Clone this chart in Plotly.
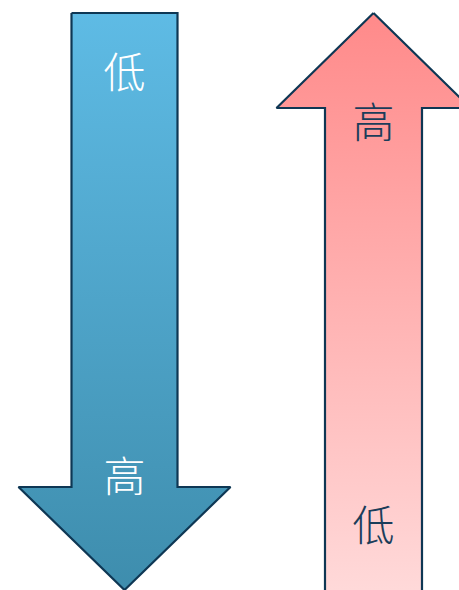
import plotly.graph_objects as go

# Labels for each arrow (top label, bottom label)
down_labels = ["低", "高"]
up_labels = ["高", "低"]

# Arrow geometry parameters (pixels in a 459x590 canvas, y downward)
W, H = 459, 590
down_cx, down_shaft_w, down_head_w, down_top, down_head_y, down_tip = 124.5, 106, 212, 13, 487, 590
up_cx, up_shaft_w, up_head_w, up_tip, up_head_y, up_bottom = 373.5, 97, 194, 13, 108, 600

def down_arrow():
    hs, hh = down_shaft_w / 2, down_head_w / 2
    xs = [down_cx - hs, down_cx + hs, down_cx + hs, down_cx + hh, down_cx, down_cx - hh, down_cx - hs, down_cx - hs]
    ys = [down_top, down_top, down_head_y, down_head_y, down_tip, down_head_y, down_head_y, down_top]
    return xs, ys

def up_arrow():
    hs, hh = up_shaft_w / 2, up_head_w / 2
    xs = [up_cx, up_cx + hh, up_cx + hs, up_cx + hs, up_cx - hs, up_cx - hs, up_cx - hh, up_cx]
    ys = [up_tip, up_head_y, up_head_y, up_bottom, up_bottom, up_head_y, up_head_y, up_tip]
    return xs, ys

edge = "#0E3754"
fig = go.Figure()
x, y = down_arrow()
fig.add_trace(go.Scatter(x=x, y=y, mode="lines", fill="toself",
                         line=dict(color=edge, width=2.2),
                         fillgradient=dict(type="vertical", start=0, stop=590,
                                           colorscale=[[0, "#5FBCE6"], [1, "#3E8DAD"]]),
                         hoverinfo="skip", showlegend=False))
x, y = up_arrow()
fig.add_trace(go.Scatter(x=x, y=y, mode="lines", fill="toself",
                         line=dict(color=edge, width=2.2),
                         fillgradient=dict(type="vertical", start=0, stop=590,
                                           colorscale=[[0, "#FF8888"], [1, "#FFD9D9"]]),
                         hoverinfo="skip", showlegend=False))

font_family = "Noto Sans CJK SC"
fig.add_trace(go.Scatter(x=[down_cx, down_cx], y=[77, 481], mode="text", text=down_labels,
                         textfont=dict(family=font_family, size=42, color="white", weight=300),
                         hoverinfo="skip", showlegend=False))
fig.add_trace(go.Scatter(x=[up_cx, up_cx], y=[127, 530], mode="text", text=up_labels,
                         textfont=dict(family=font_family, size=42, color="#1B3D5A", weight=300),
                         hoverinfo="skip", showlegend=False))

fig.update_layout(width=W, height=H, margin=dict(l=0, r=0, t=0, b=0),
                  paper_bgcolor="white", plot_bgcolor="white")
fig.update_xaxes(range=[0, W], visible=False, fixedrange=True)
fig.update_yaxes(range=[H, 0], visible=False, fixedrange=True)
fig.write_html("out.html", config={"displayModeBar": False},
               post_script="document.body.style.margin='0';document.body.style.overflow='hidden';")
